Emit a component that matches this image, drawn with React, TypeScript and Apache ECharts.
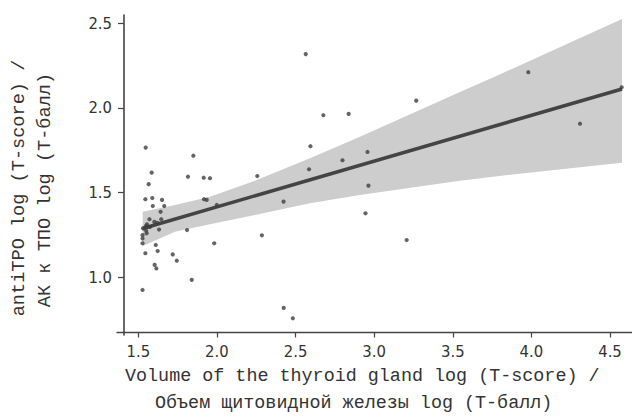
import React, { useEffect, useRef } from "react";
import * as echarts from "echarts";

// Scatter points (x: thyroid volume log T-score, y: antiTPO log T-score)
const pointX = [
  1.547, 1.85, 1.585, 1.816, 1.916, 1.956, 1.566, 1.545, 1.589, 1.651,
  1.918, 1.935, 1.592, 1.665, 1.642, 1.999, 1.571, 1.646, 1.602, 1.621,
  1.555, 1.53, 1.549, 1.574, 1.632, 1.81, 1.553, 1.527, 1.527, 1.527,
  1.611, 1.623, 1.545, 1.719, 1.745, 1.604, 1.615, 1.84, 1.527, 2.257,
  2.586, 2.799, 2.958, 2.424, 2.964, 2.945, 1.983, 2.286, 3.207, 2.425,
  2.483, 2.565, 2.595, 2.677, 2.838, 3.268, 3.981, 4.575, 4.31, 1.55,
];
const pointY = [
  1.766, 1.718, 1.618, 1.594, 1.588, 1.585, 1.55, 1.461, 1.468, 1.457,
  1.461, 1.457, 1.421, 1.421, 1.387, 1.427, 1.343, 1.343, 1.327, 1.321,
  1.313, 1.289, 1.303, 1.297, 1.282, 1.279, 1.26, 1.249, 1.229, 1.201,
  1.191, 1.155, 1.142, 1.135, 1.098, 1.073, 1.052, 0.985, 0.925, 1.598,
  1.638, 1.691, 1.74, 1.447, 1.541, 1.378, 1.201, 1.248, 1.22, 0.819,
  0.758, 2.318, 1.774, 1.957, 1.965, 2.043, 2.211, 2.122, 1.907, 1.275,
];

// Confidence band, read at several x positions
const ribbonX = [1.528, 1.733, 1.956, 2.242, 2.592, 2.91, 3.546, 3.756, 4.577];
const ribbonLower = [1.185, 1.269, 1.313, 1.368, 1.437, 1.486, 1.57, 1.594, 1.677];
const ribbonUpper = [1.387, 1.427, 1.476, 1.57, 1.703, 1.83, 2.095, 2.18, 2.526];

// Fitted regression line end points
const fitX = [1.528, 4.577];
const fitY = [1.288, 2.112];

// Tick labels
const xTicks = [1.5, 2.0, 2.5, 3.0, 3.5, 4.0, 4.5];
const yTicks = [1.0, 1.5, 2.0, 2.5];

const xTitle = [
  "Volume of the thyroid gland log (T-score) /",
  "Объем щитовидной железы log (T-балл)",
];
const yTitle = ["antiTPO log (T-score) /", "АК к ТПО log (T-балл)"];

const TICK_FONT = "'Liberation Sans Narrow', 'DejaVu Sans Condensed', 'Roboto Condensed', 'Liberation Sans', sans-serif";
const TITLE_FONT = "'Liberation Mono', 'DejaVu Sans Mono', monospace";
const TEXT_COLOR = "#333333";
const AXIS_COLOR = "#444444";

export default function App() {
  const ref = useRef<HTMLDivElement>(null);

  useEffect(() => {
    if (!ref.current) return;
    const chart = echarts.init(ref.current, undefined, { renderer: "svg" });

    const xStep = xTicks[1] - xTicks[0];
    const yStep = yTicks[1] - yTicks[0];

    const option: any = {
      animation: false,
      backgroundColor: "#ffffff",
      grid: [
        // data grid (also carries the y axis line)
        { left: 124, top: 15, width: 508, height: 320, outerBoundsMode: "none" },
        // x axis line
        { left: 117, top: 15, width: 515, height: 317.5, outerBoundsMode: "none" },
        // ticks and labels
        { left: 138.3, top: 23.3, width: 471.7, height: 254, outerBoundsMode: "none" },
      ],
      xAxis: [
        {
          gridIndex: 0,
          type: "value",
          min: 1.409,
          max: 4.6406,
          show: false,
        },
        {
          gridIndex: 1,
          type: "value",
          min: 0,
          max: 1,
          axisLine: { show: true, lineStyle: { color: AXIS_COLOR, width: 1.3 } },
          axisTick: { show: false },
          axisLabel: { show: false },
          splitLine: { show: false },
        },
        {
          gridIndex: 2,
          type: "value",
          min: xTicks[0],
          max: xTicks[xTicks.length - 1],
          interval: xStep,
          offset: 55.2,
          axisLine: { show: false },
          axisTick: { show: true, inside: false, length: 5, lineStyle: { color: AXIS_COLOR, width: 1.2 } },
          axisLabel: {
            show: true,
            margin: 10,
            fontFamily: TICK_FONT,
            fontSize: 16.5,
            color: TEXT_COLOR,
            formatter: (v: number) => v.toFixed(1),
          },
          splitLine: { show: false },
        },
      ],
      yAxis: [
        {
          gridIndex: 0,
          type: "value",
          min: 0.6592,
          max: 2.549,
          axisLine: { show: true, lineStyle: { color: AXIS_COLOR, width: 1.6 } },
          axisTick: { show: false },
          axisLabel: { show: false },
          splitLine: { show: false },
        },
        { gridIndex: 1, type: "value", min: 0, max: 1, show: false },
        {
          gridIndex: 2,
          type: "value",
          min: yTicks[0],
          max: yTicks[yTicks.length - 1],
          interval: yStep,
          offset: 14.3,
          axisLine: { show: false },
          axisTick: { show: true, inside: false, length: 6, lineStyle: { color: AXIS_COLOR, width: 1.2 } },
          axisLabel: {
            show: true,
            margin: 12,
            fontFamily: TICK_FONT,
            fontSize: 16.5,
            color: TEXT_COLOR,
            formatter: (v: number) => v.toFixed(1),
          },
          splitLine: { show: false },
        },
      ],
      series: [
        {
          type: "custom",
          xAxisIndex: 0,
          yAxisIndex: 0,
          silent: true,
          z: 1,
          data: [[ribbonX[0], ribbonLower[0]]],
          renderItem: (_params: any, api: any) => {
            const upper = ribbonX.map((x, i) => api.coord([x, ribbonUpper[i]]));
            const lower = ribbonX.map((x, i) => api.coord([x, ribbonLower[i]])).reverse();
            return {
              type: "polygon",
              shape: { points: upper.concat(lower) },
              style: { fill: "#cdcdcd" },
            };
          },
        },
        {
          type: "line",
          xAxisIndex: 0,
          yAxisIndex: 0,
          z: 2,
          symbol: "none",
          silent: true,
          lineStyle: { color: "#444444", width: 3.5 },
          data: fitX.map((x, i) => [x, fitY[i]]),
        },
        {
          type: "scatter",
          xAxisIndex: 0,
          yAxisIndex: 0,
          z: 3,
          symbol: "circle",
          symbolSize: 4.2,
          silent: true,
          itemStyle: { color: "#3f3f3f" },
          data: pointX.map((x, i) => [x, pointY[i]]),
        },
      ],
      graphic: [
        {
          type: "text",
          left: 125,
          top: 367,
          style: {
            text: xTitle[0],
            font: `18.4px ${TITLE_FONT}`,
            fill: TEXT_COLOR,
          },
        },
        {
          type: "text",
          left: 155,
          top: 394,
          style: {
            text: xTitle[1],
            font: `18.4px ${TITLE_FONT}`,
            fill: TEXT_COLOR,
          },
        },
        {
          type: "text",
          x: 19.5,
          y: 188,
          rotation: Math.PI / 2,
          style: {
            text: yTitle[0],
            font: `18.6px ${TITLE_FONT}`,
            fill: TEXT_COLOR,
            align: "center",
            verticalAlign: "middle",
          },
        },
        {
          type: "text",
          x: 45.5,
          y: 190,
          rotation: Math.PI / 2,
          style: {
            text: yTitle[1],
            font: `18.6px ${TITLE_FONT}`,
            fill: TEXT_COLOR,
            align: "center",
            verticalAlign: "middle",
          },
        },
      ],
    };

    chart.setOption(option);
    return () => chart.dispose();
  }, []);

  return (
    <div
      ref={ref}
      style={{ position: "fixed", left: 0, top: 0, width: 632, height: 420, background: "#fff" }}
    />
  );
}
